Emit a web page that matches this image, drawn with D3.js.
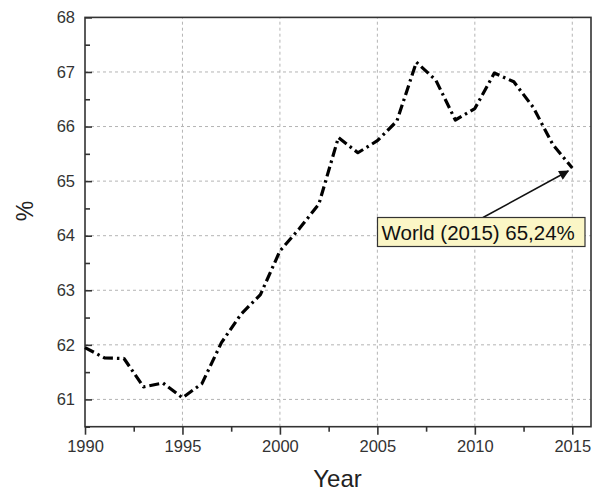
<!DOCTYPE html>
<html>
<head>
<meta charset="utf-8">
<script src="https://cdn.jsdelivr.net/npm/d3@7"></script>
<style>
  html, body { margin: 0; padding: 0; background: #fff; }
  svg { display: block; font-family: Arial, "Liberation Sans", sans-serif; }
</style>
</head>
<body>
<svg id="chart" width="597" height="491"></svg>
<script>
// World series, percent by year
const years = [1990, 1991, 1992, 1993, 1994, 1995, 1996, 1997, 1998, 1999,
               2000, 2001, 2002, 2003, 2004, 2005, 2006, 2007, 2008, 2009,
               2010, 2011, 2012, 2013, 2014, 2015];
const values = [61.95, 61.76, 61.75, 61.23, 61.30, 61.03, 61.29, 62.04, 62.56, 62.92,
                63.72, 64.13, 64.58, 65.80, 65.52, 65.74, 66.10, 67.18, 66.85, 66.12,
                66.33, 66.98, 66.82, 66.35, 65.67, 65.24];
const xTicks = [1990, 1995, 2000, 2005, 2010, 2015];
const yTicks = [61, 62, 63, 64, 65, 66, 67, 68];
const annotationText = "World (2015) 65,24%";

const svg = d3.select("#chart");
const x = d3.scaleLinear().domain([1990, 2015.96]).range([85, 591]);
const y = d3.scaleLinear().domain([60.5, 68]).range([426.7, 17.4]);
const FONT = "Arial, 'Liberation Sans', sans-serif";

// grid
const grid = svg.append("g").attr("stroke", "#b4b4b4").attr("stroke-width", 1)
  .attr("stroke-dasharray", "3,3").attr("fill", "none");
grid.selectAll("line.v").data(xTicks.slice(1)).join("line")
  .attr("x1", d => x(d)).attr("x2", d => x(d))
  .attr("y1", y.range()[0]).attr("y2", y.range()[1]);
grid.selectAll("line.h").data(yTicks.filter(d => d < 68)).join("line")
  .attr("x1", x.range()[0]).attr("x2", x.range()[1])
  .attr("y1", d => y(d)).attr("y2", d => y(d));

// frame
svg.append("rect")
  .attr("x", x.range()[0]).attr("y", y.range()[1])
  .attr("width", x.range()[1] - x.range()[0])
  .attr("height", y.range()[0] - y.range()[1])
  .attr("fill", "none").attr("stroke", "#333").attr("stroke-width", 1.6);

// x axis: ticks pointing outward
const xAxis = svg.append("g").attr("transform", `translate(0,${y.range()[0]})`);
xAxis.call(d3.axisBottom(x).tickValues(xTicks).tickFormat(d3.format("d"))
  .tickSize(8).tickPadding(6));
xAxis.append("g").call(d3.axisBottom(x)
  .tickValues([1992.5, 1997.5, 2002.5, 2007.5, 2012.5]).tickSize(5).tickFormat(""));
xAxis.selectAll(".domain").remove();
xAxis.selectAll("line").attr("stroke", "#333").attr("stroke-width", 1.6);
xAxis.selectAll("text").attr("font-size", 16.5).attr("fill", "#333")
  .attr("font-family", FONT);

// y axis: ticks pointing inward
const yAxis = svg.append("g").attr("transform", `translate(${x.range()[0]},0)`);
yAxis.call(d3.axisLeft(y).tickValues(yTicks).tickFormat(d3.format("d"))
  .tickSizeInner(-7).tickSizeOuter(0).tickPadding(10));
yAxis.append("g").call(d3.axisLeft(y)
  .tickValues([60.5, 61.5, 62.5, 63.5, 64.5, 65.5, 66.5, 67.5]).tickSizeInner(-5).tickSizeOuter(0).tickFormat(""));
yAxis.selectAll(".domain").remove();
yAxis.selectAll("line").attr("stroke", "#333").attr("stroke-width", 1.6);
yAxis.selectAll("text").attr("font-size", 16.5).attr("fill", "#333")
  .attr("font-family", FONT);

// axis titles
svg.append("text").attr("x", 337.5).attr("y", 486.5).attr("text-anchor", "middle")
  .attr("font-size", 24).attr("fill", "#222").text("Year");
svg.append("text").attr("transform", "translate(32.5,211) rotate(-90)")
  .attr("text-anchor", "middle").attr("font-size", 23).attr("fill", "#222").text("%");

// series line (dash-dot)
const line = d3.line().x((d, i) => x(years[i])).y(d => y(d));
svg.append("path").datum(values)
  .attr("d", line)
  .attr("fill", "none").attr("stroke", "#000").attr("stroke-width", 3.2)
  .attr("stroke-dasharray", "10,4,2.5,4").attr("stroke-linejoin", "round");

// annotation arrow and label
const defs = svg.append("defs");
defs.append("marker").attr("id", "arrowhead")
  .attr("viewBox", "0 0 10 10").attr("refX", 9).attr("refY", 5)
  .attr("markerWidth", 14).attr("markerHeight", 10).attr("markerUnits", "userSpaceOnUse")
  .attr("orient", "auto")
  .append("path").attr("d", "M0,0 L10,5 L0,10 z").attr("fill", "#111");

const lastX = x(years[years.length - 1]);
const lastY = y(values[values.length - 1]);
svg.append("line")
  .attr("x1", 483).attr("y1", 217.5)
  .attr("x2", lastX - 4).attr("y2", lastY + 3)
  .attr("stroke", "#111").attr("stroke-width", 1.5)
  .attr("marker-end", "url(#arrowhead)");

const box = svg.append("g");
box.append("rect").attr("x", 377.5).attr("y", 217.5).attr("width", 207.5).attr("height", 29)
  .attr("fill", "#fbf6c6").attr("stroke", "#333").attr("stroke-width", 1.2);
box.append("text").attr("x", 381.5).attr("y", 239.5)
  .attr("font-size", 20.5).attr("fill", "#111")
  .text(annotationText);
</script>
</body>
</html>
